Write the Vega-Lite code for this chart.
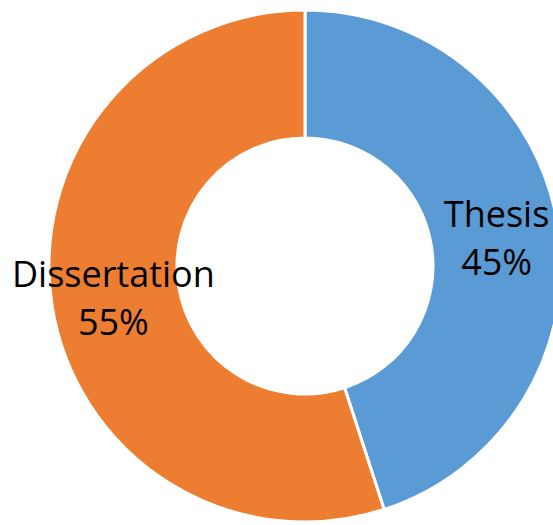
{
  "$schema": "https://vega.github.io/schema/vega-lite/v6.json",
  "width": 610,
  "height": 532,
  "padding": 0,
  "autosize": {"type": "none"},
  "background": "white",
  "config": {"view": {"stroke": null}},
  "data": {
    "values": [
      {"category": "Thesis", "value": 45, "label": "Thesis\n45%", "rank": 1},
      {"category": "Dissertation", "value": 55, "label": "Dissertation\n55%", "rank": 2}
    ]
  },
  "encoding": {
    "theta": {"field": "value", "type": "quantitative", "stack": true},
    "order": {"field": "rank", "type": "quantitative"}
  },
  "layer": [
    {
      "mark": {"type": "arc", "outerRadius": 256, "innerRadius": 128, "stroke": "white", "strokeWidth": 3},
      "encoding": {
        "color": {
          "field": "category",
          "type": "nominal",
          "scale": {"domain": ["Thesis", "Dissertation"], "range": ["#5B9BD5", "#ED7D31"]},
          "legend": null
        }
      }
    },
    {
      "mark": {"type": "text", "radius": 194, "dy": -20, "font": "Open Sans", "fontSize": 36, "lineBreak": "\n", "lineHeight": 48, "align": "center", "baseline": "middle", "color": "black"},
      "encoding": {
        "text": {"field": "label", "type": "nominal"}
      }
    }
  ]
}
